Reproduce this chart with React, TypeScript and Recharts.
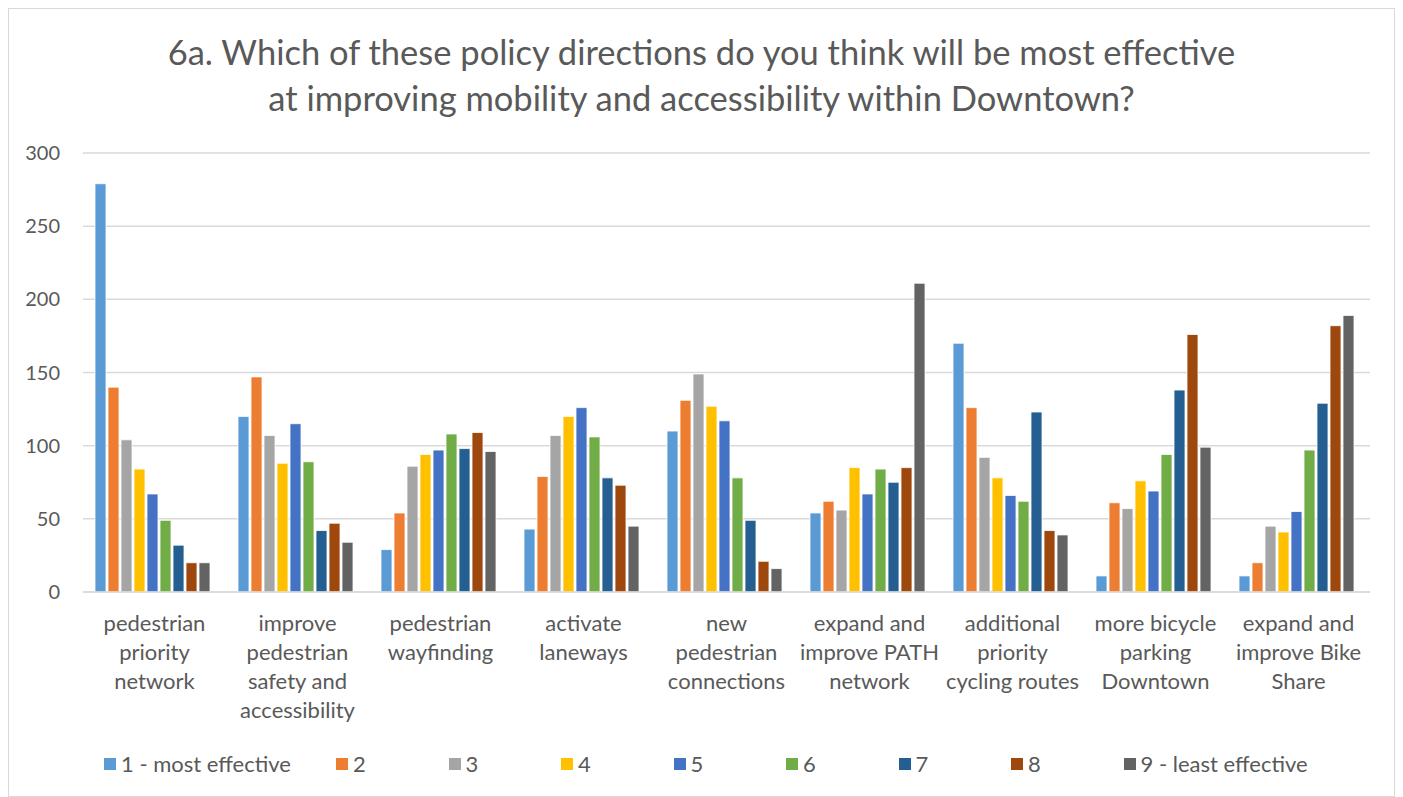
import React from 'react';
import { BarChart, Bar, XAxis, YAxis, CartesianGrid } from 'recharts';

const categories = [
    'pedestrian\npriority\nnetwork',
    'improve\npedestrian\nsafety and\naccessibility',
    'pedestrian\nwayfinding',
    'activate\nlaneways',
    'new\npedestrian\nconnections',
    'expand and\nimprove PATH\nnetwork',
    'additional\npriority\ncycling routes',
    'more bicycle\nparking\nDowntown',
    'expand and\nimprove Bike\nShare',
];

const seriesNames = ['1 - most effective', '2', '3', '4', '5', '6', '7', '8', '9 - least effective'];
const seriesColors = ['#5B9BD5', '#ED7D31', '#A5A5A5', '#FFC000', '#4472C4', '#70AD47', '#255E91', '#9E480E', '#636363'];

const rank1 = [279, 120, 29, 43, 110, 54, 170, 11, 11];
const rank2 = [140, 147, 54, 79, 131, 62, 126, 61, 20];
const rank3 = [104, 107, 86, 107, 149, 56, 92, 57, 45];
const rank4 = [84, 88, 94, 120, 127, 85, 78, 76, 41];
const rank5 = [67, 115, 97, 126, 117, 67, 66, 69, 55];
const rank6 = [49, 89, 108, 106, 78, 84, 62, 94, 97];
const rank7 = [32, 42, 98, 78, 49, 75, 123, 138, 129];
const rank8 = [20, 47, 109, 73, 21, 85, 42, 176, 182];
const rank9 = [20, 34, 96, 45, 16, 211, 39, 99, 189];

const yTicks = [0, 50, 100, 150, 200, 250, 300];

const allSeries = [rank1, rank2, rank3, rank4, rank5, rank6, rank7, rank8, rank9];

const data = categories.map((name, i) => {
    const row: Record<string, string | number> = { name };
    allSeries.forEach((s, k) => {
        row[`r${k + 1}`] = s[i];
    });
    return row;
});

const FONT = 'Lato, "Open Sans", sans-serif';
const TEXT = '#595959';

function CategoryTick(props: any) {
    const { x, y, payload } = props;
    const lines = String(payload.value).split('\n');
    return (
        <text x={x} y={y + 31} textAnchor="middle" fill={TEXT} fontSize={22} fontFamily={FONT}>
            {lines.map((l, i) => (
                <tspan key={i} x={x} dy={i === 0 ? 0 : 29}>{l}</tspan>
            ))}
        </text>
    );
}

export default function App() {
    return (
        <div style={{ position: 'relative', width: 1387, height: 789, border: '1px solid #d9d9d9', boxSizing: 'border-box', background: '#fff', fontFamily: FONT }}>
            <div style={{ position: 'absolute', top: 20, left: 0, width: '100%', textAlign: 'center', color: TEXT, fontSize: 34.5, lineHeight: '46px', whiteSpace: 'nowrap' }}>
                6a. Which of these policy directions do you think will be most effective
                <br />
                at improving mobility and accessibility within Downtown?
            </div>
            <div style={{ position: 'absolute', top: 0, left: 0 }}>
                <BarChart
                    width={1385}
                    height={787}
                    data={data}
                    margin={{ top: 144, right: 24, left: 0, bottom: 0 }}
                    barCategoryGap={12}
                    barGap={2}
                >
                    <CartesianGrid stroke="#d9d9d9" strokeWidth={1.5} vertical={false} />
                    <XAxis
                        dataKey="name"
                        height={204}
                        axisLine={{ stroke: '#d9d9d9', strokeWidth: 1.5 }}
                        tickLine={false}
                        interval={0}
                        tick={<CategoryTick />}
                    />
                    <YAxis
                        width={74}
                        domain={[0, 300]}
                        ticks={yTicks}
                        axisLine={false}
                        tickLine={false}
                        tickMargin={17}
                        tick={{ fill: TEXT, fontSize: 20, fontFamily: FONT }}
                    />
                    {seriesNames.map((n, k) => (
                        <Bar
                            key={n}
                            dataKey={`r${k + 1}`}
                            name={n}
                            fill={seriesColors[k]}
                            stroke="#ffffff"
                            strokeWidth={0.8}
                            isAnimationActive={false}
                        />
                    ))}
                </BarChart>
            </div>
            <div style={{ position: 'absolute', top: 742, left: 95, display: 'flex', alignItems: 'center', color: TEXT, fontSize: 22, lineHeight: '26px', whiteSpace: 'nowrap' }}>
                {seriesNames.map((n, k) => (
                    <div key={n} style={{ width: k === 0 ? 232 : 112.5, display: 'flex', alignItems: 'center' }}>
                        <span style={{ display: 'inline-block', width: 12, height: 12, flex: 'none', background: seriesColors[k], marginRight: 5 }} />
                        <span>{n}</span>
                    </div>
                ))}
            </div>
        </div>
    );
}
